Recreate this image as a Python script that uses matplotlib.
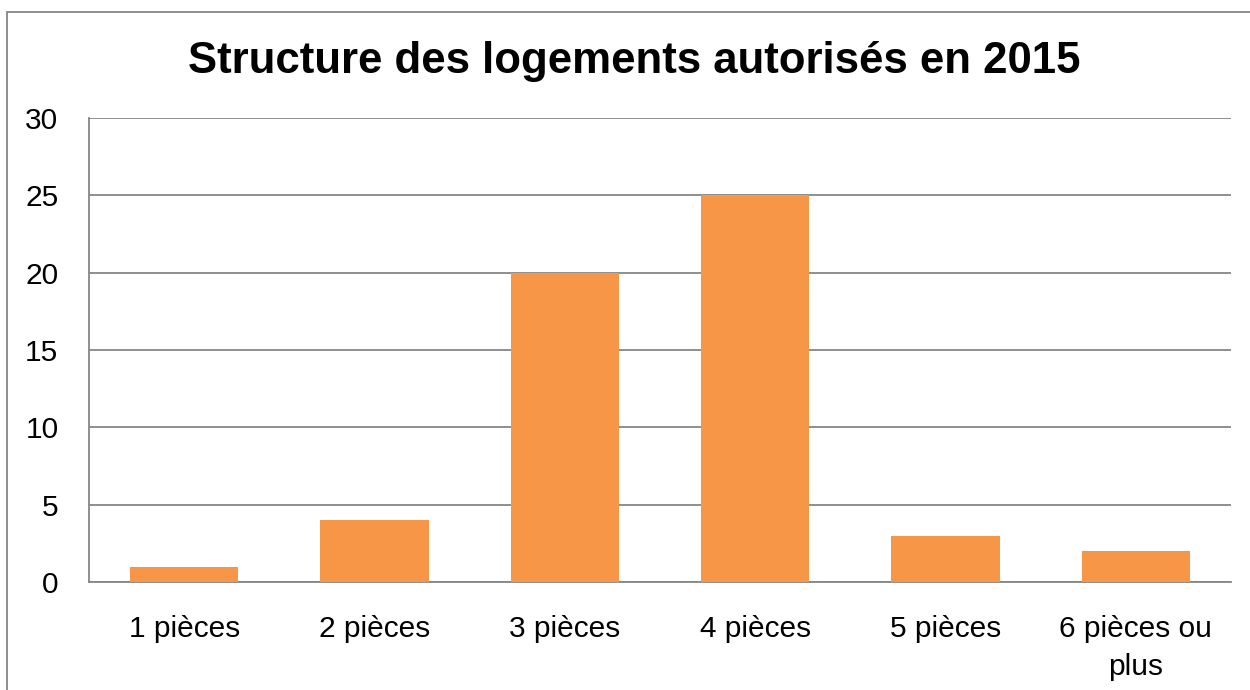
import matplotlib.pyplot as plt
from matplotlib.patches import Rectangle

categories = ["1 pièces", "2 pièces", "3 pièces", "4 pièces", "5 pièces", "6 pièces ou\nplus"]
logements = [1, 4, 20, 25, 3, 2]
y_ticks = [0, 5, 10, 15, 20, 25, 30]

plt.rcParams['font.family'] = ['Liberation Sans', 'DejaVu Sans']
grid_col = "#868686"

fig = plt.figure(figsize=(12.5, 6.9), dpi=100)
W, H = 1250, 690
ax = fig.add_axes([89 / W, 1 - 582 / H, (1231 - 89) / W, (582 - 118) / H])

x = range(len(categories))
ax.bar(x, logements, width=0.57, color="#F79646", zorder=3)

ax.set_xlim(-0.5, len(categories) - 0.5)
ax.set_ylim(0, 30)
ax.set_yticks(y_ticks)
ax.set_xticks(list(x))
ax.set_xticklabels(categories, fontsize=21.5, linespacing=1.45)
ax.tick_params(axis="y", labelsize=21.5, length=0, pad=22)
ax.tick_params(axis="x", length=0, pad=24)
ax.yaxis.grid(True, color=grid_col, linewidth=1.3, zorder=0)
ax.set_axisbelow(True)

for side in ["top", "right"]:
    ax.spines[side].set_visible(False)
for side in ["left", "bottom"]:
    ax.spines[side].set_color(grid_col)
    ax.spines[side].set_linewidth(1.3)

fig.text(634 / W, 1 - 62 / H, "Structure des logements autorisés en 2015",
         ha="center", va="center", fontsize=31.5, fontweight="bold")

# cadre du graphique
fig.patches.append(Rectangle((7 / W, -0.1), 1.2, 1 - 12 / H + 0.1, transform=fig.transFigure,
                             fill=False, edgecolor=grid_col, linewidth=1.3))

fig.savefig("out.png", dpi=100)
